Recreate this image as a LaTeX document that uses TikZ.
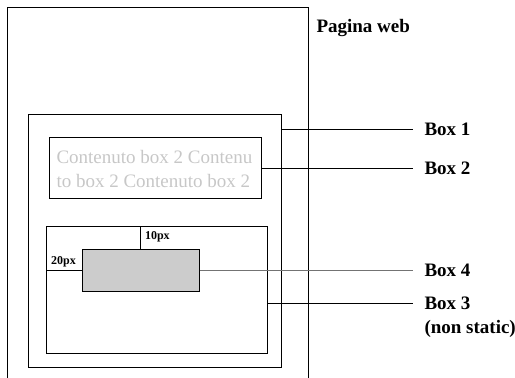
\documentclass[tikz,border=0pt]{standalone}
\usepackage{fontspec}
\setmainfont{Liberation Serif}
\begin{document}
\begin{tikzpicture}[x=1pt,y=-1pt,line width=1pt,
    box/.style={draw,inner sep=0pt},
    lbl/.style={font=\bfseries\fontsize{19}{22}\selectfont,anchor=west,inner xsep=11pt,inner ysep=0pt},
    lead/.style={line width=0.8pt},
    px/.style={font=\bfseries\fontsize{12}{14}\selectfont,inner sep=2pt}]
  \useasboundingbox (0,0) rectangle (515,378);
  % pagina
  \draw (7,378) |- (308,7) -- (308,378);
  \node[anchor=west,inner sep=0pt,font=\bfseries\fontsize{19}{22}\selectfont] (web) at (316,28) {Pagina web};
  % box
  \node[box,minimum width=253pt,minimum height=253pt] (box1) at (154.5,240.5) {};
  \node[box,minimum width=212pt,minimum height=61pt] (box2) at (155,168) {};
  \node[anchor=west,align=left,inner sep=0pt,text=black!22,
        font=\fontsize{19}{24}\selectfont] (txt) at (56,169)
        {Contenuto box 2 Contenu\\to box 2 Contenuto box 2};
  \node[box,minimum width=221pt,minimum height=127pt] (box3) at (156.5,289.5) {};
  \node[box,fill=black!20,minimum width=117pt,minimum height=42pt] (box4) at (140.5,270) {};
  \draw (box4.north) -- node[px,midway,right=2pt]{10px} (box4.north |- box3.north);
  \draw (box4.west) -- node[px,midway,above]{20px} (box4.west -| box3.west);
  % etichette
  \node[lbl] (l1) at (413,129) {Box 1};
  \node[lbl] (l2) at (413,168) {Box 2};
  \node[lbl] (l4) at (413,270) {Box 4};
  \node[lbl] (l3) at (413,303) {Box 3};
  \node[lbl] (l3b) at (413,329) {(non static)};
  \draw[lead] (box1.east |- l1.west) -- (l1.west);
  \draw[lead] (box2.east) -- (l2.west |- box2.east);
  \draw[lead,black!55] (box4.east) -- (l4.west |- box4.east);
  \draw[lead] (box3.east |- l3.west) -- (l3.west);
\end{tikzpicture}
\end{document}
